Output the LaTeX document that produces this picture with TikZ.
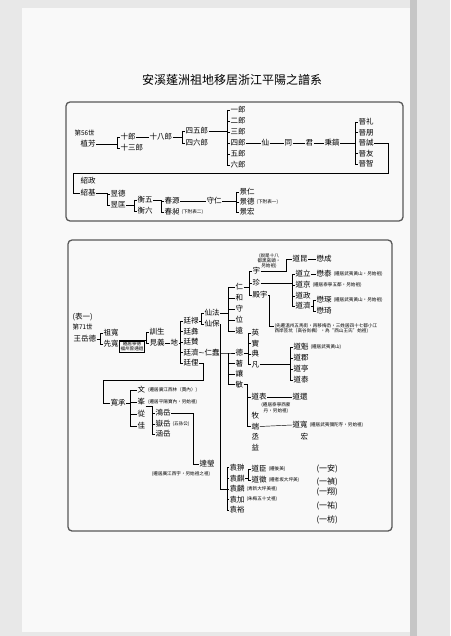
\documentclass[tikz,border=0pt]{standalone}
\usepackage{fontspec}
\setmainfont{Noto Sans CJK TC}
\newcommand\nmf{\fontsize{7.5}{8}\selectfont}
\newcommand\ntf{\fontsize{4.6}{5.2}\selectfont}
% bracket: parent, first child, last child
\newcommand\brk[4][3pt]{%
  \draw (#2.east) -| ([xshift=-#1]#3.west) -- (#3.west);
  \draw ([xshift=-#1]#3.west) |- (#4.west);}
\newcommand\tk[2][3pt]{\draw (#2.west) -- ++(-#1,0);}
\begin{document}
\begin{tikzpicture}[x=1pt, y=-1pt, line width=0.45pt,
  nm/.style={inner sep=0.3pt, anchor=west, font=\nmf},
  nt/.style={inner sep=0.3pt, anchor=west, font=\ntf},
  frame/.style={draw=black!65, line width=1.3pt, rounded corners=4pt}]
\useasboundingbox (0,0) rectangle (450,636);
% scanned page
\fill[gray!18] (0,0) rectangle (450,636);
\fill[gray!5] (22,8) rectangle (410,632);
\fill[gray!45] (410,0) rectangle (417,636);
\node[font=\fontsize{12}{14}\selectfont] (ttl) at (232,80) {安溪蓬洲祖地移居浙江平陽之譜系};

% ---- first table
\draw[frame] (66,102) rectangle (403,221);
\node[nm, font=\fontsize{6.5}{7}\selectfont] (s56) at (74,133) {第56世};
\node[nm] (zf) at (80,144) {植芳};
\node[nm] (sl) at (120,137) {十郎};
\node[nm] (ssl) at (120,148) {十三郎};
\node[nm] (sbl) at (149,137) {十八郎};
\node[nm] (s45) at (185,131) {四五郎};
\node[nm] (s46) at (185,143) {四六郎};
\foreach \n [count=\i] in {一,二,三,四,五,六}
  \node[nm] (l\i) at (230,{99+11*\i}) {\n 郎};
\node[nm] (xn) at (261,143) {仙};
\node[nm] (tg) at (284,143) {同};
\node[nm] (jn) at (305,143) {君};
\node[nm] (bh) at (324,143) {秉鎬};
\foreach \n [count=\i] in {礼,朋,誠,友,智}
  \node[nm] (j\i) at (358,{111.5+10.5*\i}) {晉\n};
\brk{zf}{sl}{ssl}
\draw (sl.east) -- (sbl.west);
\brk{sbl}{s45}{s46}
\brk{s45}{l1}{l6}
\foreach \i in {2,...,5} {\tk{l\i}}
\draw (l4.east) -- (xn.west);
\draw (xn.east) -- (tg.west);
\draw (tg.east) -- (jn.west);
\draw (jn.east) -- (bh.west);
\brk{bh}{j1}{j5}
\tk{j2}\tk{j4}
\node[nm] (szz) at (80,181) {紹政};
\node[nm] (sj) at (80,193) {紹基};
\draw (j3.east) -| (388,173) -| ([xshift=-7pt]sj.west) -- (sj.west);
\node[nm] (yd) at (110,194) {昱德};
\node[nm] (yk) at (110,205) {昱匡};
\brk{sj}{yd}{yk}
\node[nm] (h5) at (137,200) {衡五};
\node[nm] (h6) at (137,211) {衡六};
\brk{yk}{h5}{h6}
\node[nm] (cy) at (164,201) {春源};
\node[nm] (cc) at (164,212) {春昶};
\node[nt] (ncc) at ([xshift=1pt]cc.east) {(下附表二)};
\brk{h5}{cy}{cc}
\node[nm] (sr) at (206,201) {守仁};
\draw (cy.east) -- (sr.west);
\node[nm] (jr) at (239,192) {景仁};
\node[nm] (jd) at (239,202) {景德};
\node[nm] (jh) at (239,212) {景宏};
\node[nt] (njd) at ([xshift=1pt]jd.east) {(下附表一)};
\brk{sr}{jr}{jh}\tk{jd}

% ---- second table
\draw[frame] (68,240) rectangle (392,531);
\node[nm] (b1) at (72,317) {(表一)};
\node[nm, font=\fontsize{6.5}{7}\selectfont] (s71) at (72,327) {第71世};
\node[nm] (wyd) at (73,339) {王岳德};
\node[nm] (zk) at (103,333) {祖寬};
\node[nm] (xk) at (103,344) {先寬};
\brk{wyd}{zk}{xk}
\node[nt, draw, inner sep=0.8pt, align=center, anchor=north] (n0) at (132,340.5) {遷居寧德\\福州曾通過};
\node[nm] (xs) at (149,332) {訓生};
\node[nm] (jy) at (149,343) {見義};
\draw (xk.north east) -| ([xshift=-3pt]xs.west) -- (xs.west);
\draw ([xshift=-3pt]xs.west) |- (jy.west);
\node[nm] (di) at (170,343) {地};
\draw (jy.east) -- (di.west);
\foreach \n [count=\i] in {禄,彝,賛,濟,俚}
  \node[nm] (t\i) at (183,{310.5+10.5*\i}) {廷\n};
\brk{di}{t1}{t5}
\foreach \i in {2,3,4} {\tk{t\i}}
\node[nm] (xf) at (204,313) {仙法};
\node[nm] (xb) at (204,324) {仙保};
\brk{t1}{xf}{xb}
\foreach \n [count=\i] in {仁,和,守,位,遠}
  \node[nm] (r\i) at (235,{276+11*\i}) {\n};
\brk[7pt]{xf}{r1}{r5}
\foreach \i in {2,3,4} {\tk[7pt]{r\i}}
\node[nm] (yu) at (252,271) {宇};
\node[nm] (zh) at (252,283) {珍};
\node[nm] (dy) at (252,295) {殿宇};
\brk{r1}{yu}{dy}\tk{zh}
\node[nt, anchor=center, align=center] (n1) at (269,261) {(說是十八\\都黑窯頭，\\另始祖)};
\node[nm] (dk) at (292,259) {道昆};
\node[nm] (mc) at (316,259) {懋成};
\draw (yu.east) -| ([xshift=-6pt]dk.west) -- (dk.west);
\draw (dk.east) -- (mc.west);
\node[nm] (dl) at (295,274) {道立};
\node[nm] (dj) at (295,285) {道京};
\node[nm] (dz) at (295,296) {道政};
\node[nm] (dq) at (295,306) {道濟};
\brk{zh}{dl}{dq}\tk{dj}\tk{dz}
\node[nm] (mt) at (316,274) {懋泰};
\draw (dl.east) -- (mt.west);
\node[nt] (n3) at ([xshift=1pt]mt.east) {(遷居武夷黃山，另始祖)};
\node[nt] (n4) at ([xshift=1pt]dj.east) {(遷居泰寧五都，另始祖)};
\node[nm] (mch) at (316,300) {懋琛};
\node[nm] (mq) at (316,311) {懋琦};
\brk{dq}{mch}{mq}
\node[nt] (n5) at ([xshift=1pt]mch.east) {(遷居武夷黃山，另始祖)};
\node[nt, align=left] (n2) at (274,328.5) {(先遷溫州五馬街，再移梅岙，三姓居四十七都小江\\西岸芸坑（高谷尚楓），為“西山王氏”始祖)};
\draw (dy.east) -| ([xshift=-5pt,yshift=2.6pt]n2.west) -- ([yshift=2.6pt]n2.west);
\node[nm] (rc) at (204,353) {仁蠢};
\draw (t4.east) -- (rc.west);
\foreach \n [count=\i] in {德,著,讓,敏}
  \node[nm] (d\i) at (235,{342.5+10.5*\i}) {\n};
\brk[7pt]{rc}{d1}{d4}
\tk[7pt]{d2}\tk[7pt]{d3}
\foreach \n [count=\i] in {英,實,典,凡}
  \node[nm] (y\i) at (251,{322.5+10.5*\i}) {\n};
\brk{d1}{y1}{y4}\tk{y2}\tk{y3}
\node[nm] (dm) at (293,347) {道魁};
\node[nm] (dg) at (293,358) {道郡};
\node[nm] (dt) at (293,369) {道亭};
\node[nm] (ds) at (293,380) {道泰};
\brk{y4}{dm}{ds}\tk{dg}\tk{dt}
\node[nt] (n6) at ([xshift=1pt]dm.east) {(遷居武夷黃山)};
\node[nm] (dbi) at (251,397) {道表};
\node[nm] (dh) at (292,397) {道還};
\draw (dbi.east) -- (dh.west);
\node[nt, anchor=center, align=center] (n7) at (276,408) {(遷居泰寧西蒙\\丹，另始祖)};
\foreach \n [count=\i] in {牧,端,丞,益}
  \node[nm] (c\i) at (251,{405.5+10.5*\i}) {\n};
\draw (d4.east) -| ([xshift=-4pt]dbi.west) -- (dbi.west);
\draw ([xshift=-4pt]dbi.west) |- (c2.west);
\node[nm] (dku) at (292,425) {道寬};
\node[nt] (n8) at ([xshift=1pt]dku.east) {(遷居武夷彌陀寺，另始祖)};
\node[nm] (hg) at (300,437) {宏};
\draw (c2.east) -- (dku.west);
\node[nm] (kc) at (110,403) {寬承};
\draw (t5.east) -| (203,380) -| ([xshift=-7pt]kc.west) -- (kc.west);
\foreach \n [count=\i] in {文,峯,從,佳}
  \node[nm] (w\i) at (137,{378+12*\i}) {\n};
\brk[7pt]{kc}{w1}{w4}
\tk[7pt]{w2}\tk[7pt]{w3}
\node[nt] (n9) at ([xshift=2pt]w1.east) {(遷居廣江西林（賈內）)};
\node[nt] (n10) at ([xshift=2pt]w2.east) {(遷居平陽寶內，另始祖)};
\node[nm] (hy) at (155,413) {鴻岳};
\node[nm] (yy) at (155,424) {嶽岳};
\node[nm] (hh) at (155,434) {涵岳};
\node[nt] (n12) at ([xshift=1pt]yy.east) {(五孫公)};
\draw (w2.south east) -| ([xshift=-3pt]hy.west) -- (hy.west);
\draw ([xshift=-3pt]hy.west) |- (hh.west);
\tk{yy}
\node[nm] (dyg) at (199,464) {達瑩};
\draw (hy.east) -| ([xshift=-6pt]dyg.west) -- (dyg.west);
\node[nt, anchor=center] (n11) at (181,474) {(遷居廣江西宇，另始祖之祖)};
\foreach \n [count=\i] in {翀,麒,麟,加,裕}
  \node[nm] (ya\i) at (229,{457+10.6*\i}) {袁\n};
\draw (xb.east) -| ([xshift=-9pt]ya3.west) -- (ya3.west);
\draw (ya1.west) -- ++(-2pt,0) |- (ya5.west);
\tk[2pt]{ya2}\tk[2pt]{ya4}
\node[nt] (n13) at ([xshift=1pt]ya3.east) {(青新大坪美祖)};
\node[nt] (n14) at ([xshift=1pt]ya4.east) {(朱梅五十丈祖)};
\node[nm] (dc) at (251,469) {道臣};
\node[nm] (dzh) at (251,480) {道徵};
\brk{ya2}{dc}{dzh}
\node[nt] (n15) at ([xshift=1pt]dc.east) {(遷後美)};
\node[nt] (n16) at ([xshift=1pt]dzh.east) {(遷者坂大坪美)};
\foreach \n/\yy [count=\i] in {安/469,禎/482,翔/492,祐/506,枋/520}
  \node[nm, font=\fontsize{8}{9}\selectfont] (g\i) at (316,\yy) {(一\n)};
\end{tikzpicture}
\end{document}
